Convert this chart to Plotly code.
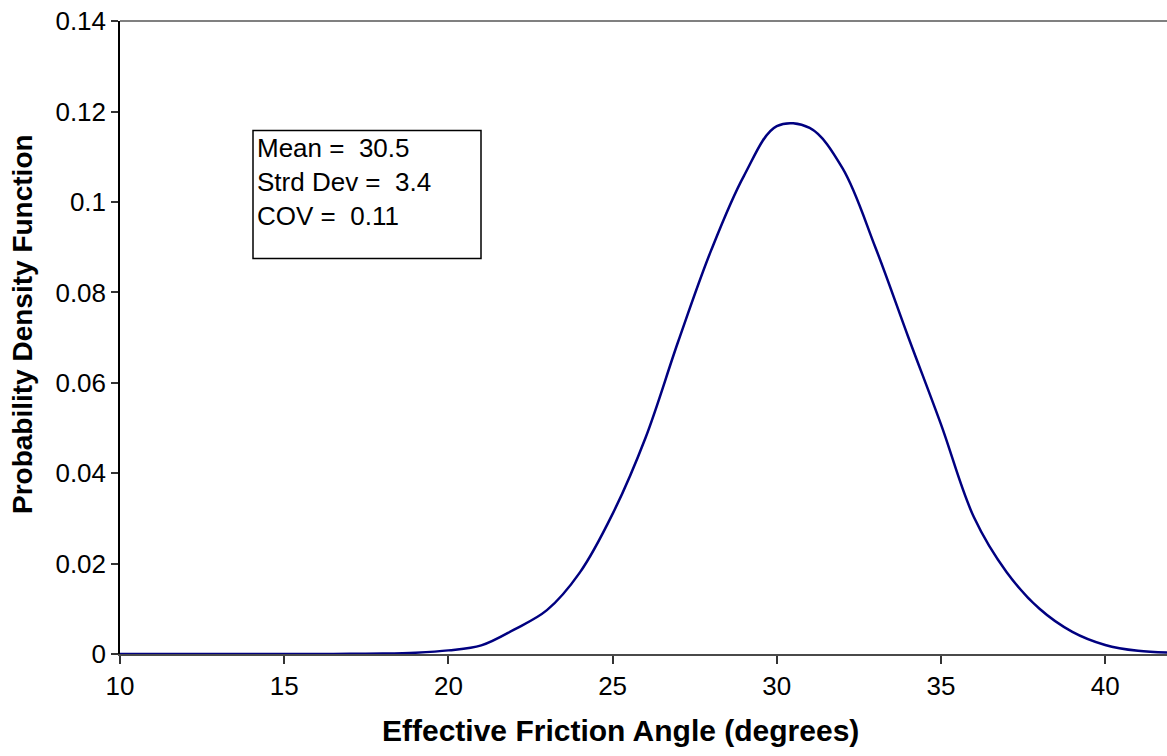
import plotly.graph_objects as go

# Data
angle = [10, 11, 12, 13, 14, 15, 16, 17, 18, 19, 20, 21, 22, 23, 24, 25, 26,
         27, 28, 29, 30, 31, 32, 33, 34, 35, 36, 37, 38, 39, 40, 41, 42]
pdf = [0.0, 0.0, 0.0, 0.0, 0.0, 0.0, 0.00001, 0.00003, 0.0001, 0.0003,
       0.0008, 0.0019, 0.0054, 0.0097, 0.0180, 0.0310, 0.0478, 0.0692,
       0.0893, 0.1058, 0.1168, 0.1164, 0.1075, 0.0900, 0.0702, 0.0508,
       0.0303, 0.0181, 0.0100, 0.0049, 0.0020, 0.0007, 0.0003]

x_ticks = [10, 15, 20, 25, 30, 35, 40]
y_ticks = [0, 0.02, 0.04, 0.06, 0.08, 0.1, 0.12, 0.14]
y_tick_text = ["0", "0.02", "0.04", "0.06", "0.08", "0.1", "0.12", "0.14"]
stats_text = ["Mean =  30.5", "Strd Dev =  3.4", "COV =  0.11"]
x_title = "Effective Friction Angle (degrees)"
y_title = "Probability Density Function"

FONT = "Liberation Sans, Arial, sans-serif"

fig = go.Figure()
fig.add_trace(go.Scatter(
    x=angle, y=pdf, mode="lines",
    line=dict(color="#000080", width=2.5, shape="spline", smoothing=1.0),
    showlegend=False, hoverinfo="skip",
))

# the page body margin is removed (post_script), so figure coords = picture coords
W, H = 1167, 756
L, T = 120, 21
B = H - 654
R = 0
pw = W - L - R
ph = H - T - B
base = H - B

fig.update_layout(
    width=W, height=H,
    margin=dict(l=L, r=R, t=T, b=B, pad=0, autoexpand=False),
    paper_bgcolor="white", plot_bgcolor="white",
    font=dict(family=FONT, color="black"),
    xaxis=dict(
        range=[10, 10 + pw / 32.84], tickvals=x_ticks, ticktext=[str(v) for v in x_ticks],
        showgrid=False, zeroline=False, automargin=False,
        showline=True, linecolor="#4a4a4a", linewidth=2,
        ticks="outside", ticklen=8, tickwidth=1.5, tickcolor="#333333",
        tickfont=dict(size=26, family=FONT, color="black"),
        ticklabeloverflow="allow",
    ),
    yaxis=dict(
        range=[0, 0.14005], tickvals=y_ticks, ticktext=y_tick_text,
        showgrid=False, zeroline=False, automargin=False,
        showline=True, linecolor="black", linewidth=1.5,
        ticks="outside", ticklen=7, tickwidth=1.5, tickcolor="#333333",
        tickfont=dict(size=26, family=FONT, color="black"),
        ticklabeloverflow="allow",
    ),
)

# axis titles
fig.add_annotation(
    xref="paper", yref="paper", x=(620 - L) / pw, y=0,
    xanchor="center", yanchor="middle", yshift=-(730 - 654),
    text="<b>" + x_title + "</b>", showarrow=False,
    font=dict(size=30, family=FONT, color="black"),
)
fig.add_annotation(
    xref="paper", yref="paper", x=0, y=(base - 324) / ph,
    xanchor="center", yanchor="middle", xshift=-(120 - 23),
    text="<b>" + y_title + "</b>", textangle=-90, showarrow=False,
    font=dict(size=28, family=FONT, color="black"),
)

# top border of plot area
fig.add_shape(type="line", xref="paper", yref="paper", x0=0, x1=1, y0=1, y1=1,
              line=dict(color="#808080", width=2))

# statistics box
bx0, bx1 = 253, 481
by0, by1 = 130.5, 258.5
fig.add_shape(type="rect", xref="paper", yref="paper",
              x0=(bx0 - L) / pw, x1=(bx1 - L) / pw,
              y0=(base - by1) / ph, y1=(base - by0) / ph,
              line=dict(color="black", width=1.5), fillcolor="white", layer="above")
fig.add_annotation(
    xref="paper", yref="paper",
    x=(255 - L) / pw, y=(base - 131) / ph,
    xanchor="left", yanchor="top", align="left", showarrow=False,
    text="<br>".join(stats_text),
    font=dict(size=26, family=FONT, color="black"),
)

fig.write_html("out.html", config={"displayModeBar": False},
               post_script="document.body.style.margin='0';")
